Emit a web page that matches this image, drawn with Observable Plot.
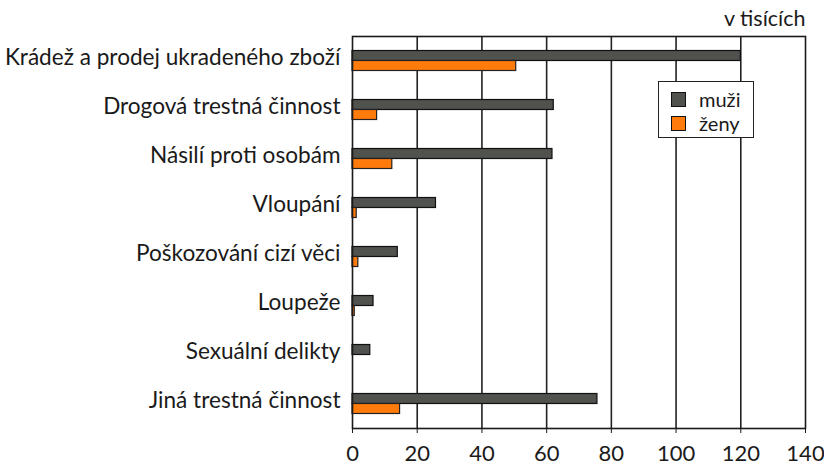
<!DOCTYPE html>
<html>
<head>
<meta charset="utf-8">
<script src="https://cdn.jsdelivr.net/npm/d3@7"></script>
<script src="https://cdn.jsdelivr.net/npm/@observablehq/plot@0.6"></script>
<style>
  html, body { margin: 0; padding: 0; background: #fff; }
  #wrap { position: relative; width: 824px; height: 466px; font-family: Lato, "Open Sans", sans-serif; color: #1a1a1a; }
  #legend { position: absolute; left: 658px; top: 81px; width: 96px; height: 57px; border: 1.5px solid #222; background: #fff; box-sizing: border-box; font-size: 20px; line-height: 1; }
  #legend .row { position: absolute; left: 12px; height: 20px; display: flex; align-items: center; }
  #legend .sw { width: 15px; height: 15px; border: 1.2px solid #111; box-sizing: border-box; margin-right: 13px; }
</style>
</head>
<body>
<div id="wrap"></div>
<script>
const categories = [
  "Krádež a prodej ukradeného zboží",
  "Drogová trestná činnost",
  "Násilí proti osobám",
  "Vloupání",
  "Poškozování cizí věci",
  "Loupeže",
  "Sexuální delikty",
  "Jiná trestná činnost"
];
const muzi = [120, 62.2, 61.8, 25.8, 14.0, 6.5, 5.5, 75.7];
const zeny = [50.6, 7.6, 12.3, 1.3, 1.8, 0.7, 0, 14.7];
const seriesNames = ["muži", "ženy"];
const seriesColors = ["#50524e", "#ff7b0c"];
const xTicks = [0, 20, 40, 60, 80, 100, 120, 140];
const unitLabel = ["v tisících"];

const dataM = categories.map((c, i) => ({category: c, value: muzi[i]}));
const dataZ = categories.map((c, i) => ({category: c, value: zeny[i]})).filter(d => d.value > 0);

const chart = Plot.plot({
  width: 824,
  height: 466,
  marginLeft: 352,
  marginRight: 19,
  marginTop: 36,
  marginBottom: 38,
  style: {fontFamily: "Lato, 'Open Sans', sans-serif", color: "#1a1a1a", background: "#fff", overflow: "visible"},
  x: {domain: [0, 140], ticks: xTicks, label: null, tickFormat: d => d},
  y: {domain: categories, padding: 0, label: null},
  marks: [
    Plot.ruleX(xTicks.slice(1, -1), {stroke: "#222", strokeWidth: 1.6}),
    Plot.barX(dataM, {y: "category", x: "value", fill: seriesColors[0], stroke: "#111", strokeWidth: 1.2, insetTop: 14.5, insetBottom: 24.5}),
    Plot.barX(dataZ, {y: "category", x: "value", fill: seriesColors[1], stroke: "#222", strokeWidth: 1.2, insetTop: 24.5, insetBottom: 14.5}),
    Plot.frame({stroke: "#1a1a1a", strokeWidth: 1.6}),
    Plot.axisX({ticks: xTicks, tickSize: 5, tickPadding: 12, fontSize: 22, label: null, stroke: "#1a1a1a", tickFormat: d => d}),
    Plot.axisY({tickSize: 0, tickPadding: 12, fontSize: 22.6, label: null, dy: -3}),
    Plot.text(unitLabel, {frameAnchor: "top-right", text: d => d, textAnchor: "end", lineAnchor: "bottom", dy: -11, fontSize: 21.5, fill: "#1a1a1a"})
  ]
});
document.getElementById("wrap").appendChild(chart);

const legend = document.createElement("div");
legend.id = "legend";
seriesNames.forEach((name, i) => {
  const row = document.createElement("div");
  row.className = "row";
  row.style.top = (i === 0 ? 7 : 31) + "px";
  const sw = document.createElement("span");
  sw.className = "sw";
  sw.style.background = seriesColors[i];
  const label = document.createElement("span");
  label.textContent = name;
  row.appendChild(sw);
  row.appendChild(label);
  legend.appendChild(row);
});
document.getElementById("wrap").appendChild(legend);
</script>
</body>
</html>
